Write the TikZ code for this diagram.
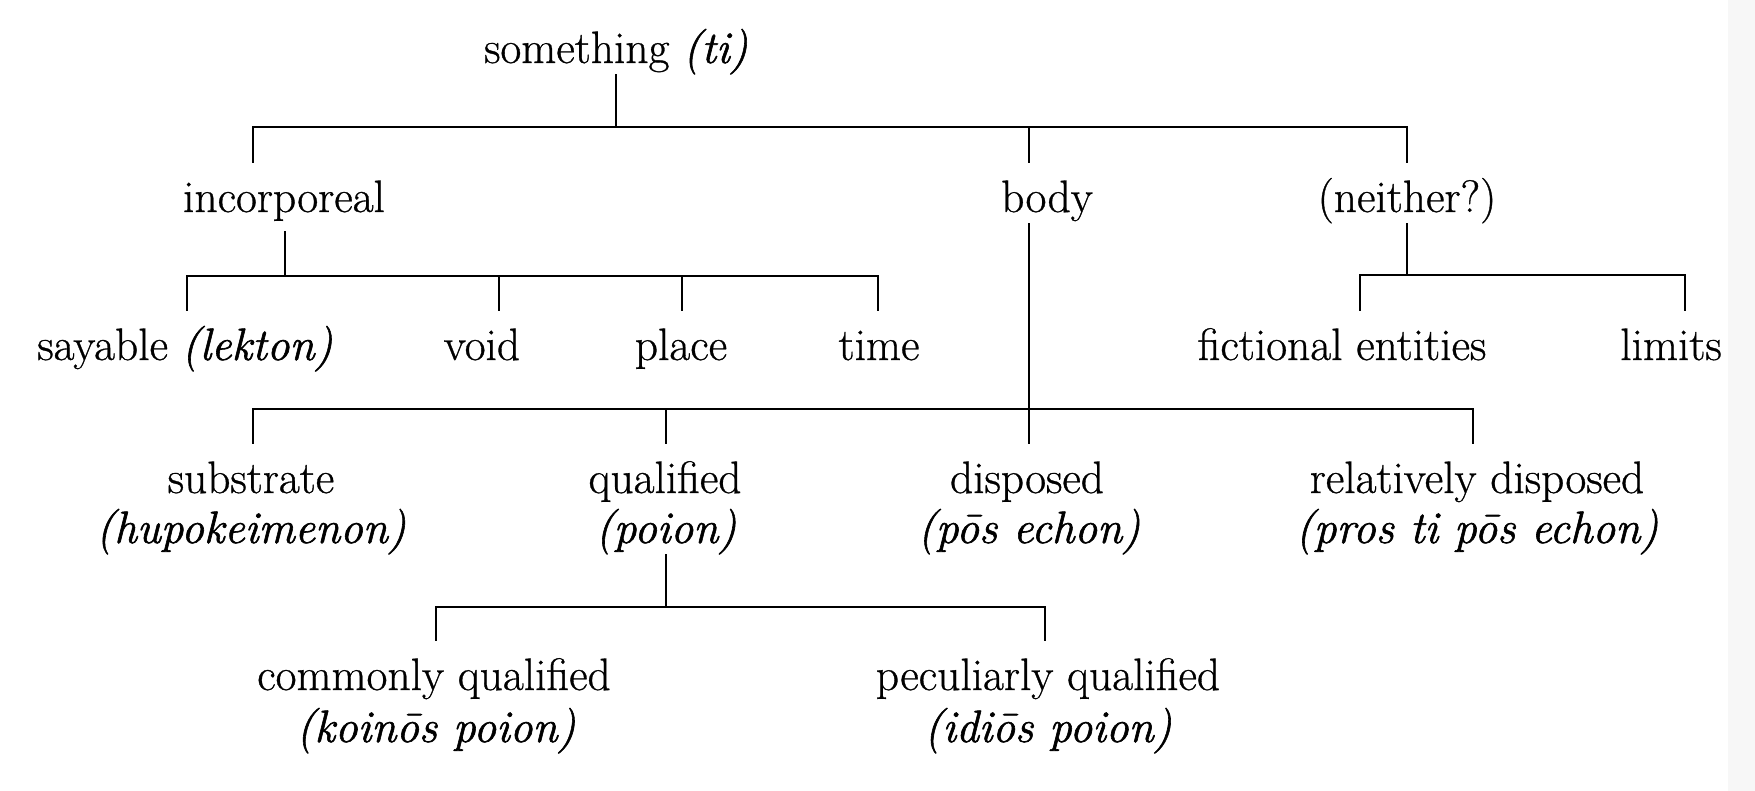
\documentclass[tikz,border=0pt]{standalone}
\usepackage{fontspec}
\setmainfont{Latin Modern Roman}[UprightFeatures={FakeBold=0.7},ItalicFeatures={FakeBold=1.3}]
\begin{document}
\begin{tikzpicture}[x=0.5pt,y=-0.5pt,
  lbl/.style={anchor=base,inner sep=0pt,text height=25pt,text depth=6pt,
              font=\fontsize{22.7pt}{25pt}\selectfont},
  tree/.style={line width=1.3pt,line cap=rect}]
\useasboundingbox (0,0) rectangle (1755,791);
\fill[gray!6] (1728,0) rectangle (1755,791);

% nodes
\node[lbl] (root) at (616,63) {something \textit{(ti)}};
\node[lbl] (inc)  at (284,212) {incorporeal};
\node[lbl] (body) at (1047,212) {body};
\node[lbl] (nei)  at (1407,212) {(neither?)};
\node[lbl] (say)  at (185,360) {sayable \textit{(lekton)}};
\node[lbl] (void) at (482,360) {void};
\node[lbl] (place) at (681,360) {place};
\node[lbl] (time) at (879,360) {time};
\node[lbl] (fict) at (1342,360) {fictional entities};
\node[lbl] (lim)  at (1671,360) {limits};
\node[lbl] (sub)  at (251,493) {substrate};
\node[lbl] (subg) at (251,543) {\textit{(hupokeimenon)}};
\node[lbl] (qual) at (665,493) {qualified};
\node[lbl] (qualg) at (666,543) {\textit{(poion)}};
\node[lbl] (disp) at (1027,493) {disposed};
\node[lbl] (dispg) at (1029,543) {\textit{(pōs echon)}};
\node[lbl] (rel)  at (1477,493) {relatively disposed};
\node[lbl] (relg) at (1477,543) {\textit{(pros ti pōs echon)}};
\node[lbl] (com)  at (434,690) {commonly qualified};
\node[lbl] (comg) at (436,742) {\textit{(koinōs poion)}};
\node[lbl] (pec)  at (1048,690) {peculiarly qualified};
\node[lbl] (pecg) at (1048,742) {\textit{(idiōs poion)}};

% bar levels and drop positions
\coordinate (y0) at (0,127);
\coordinate (y1) at (0,276);
\coordinate (y1r) at (0,275);
\coordinate (y2) at (0,409);
\coordinate (y3) at (0,607);
\coordinate (xinc) at (253,0);
\coordinate (xincs) at (285,0);
\coordinate (xbody) at (1029,0);
\coordinate (xnei) at (1407,0);
\coordinate (xsay) at (187,0);
\coordinate (xvoid) at (499,0);
\coordinate (xplace) at (682,0);
\coordinate (xtime) at (878,0);
\coordinate (xfict) at (1360,0);
\coordinate (xlim) at (1685,0);
\coordinate (xsub) at (253,0);
\coordinate (xqual) at (666,0);
\coordinate (xrel) at (1473,0);
\coordinate (xcom) at (436,0);
\coordinate (xpec) at (1045,0);

% something -> incorporeal, body, neither
\draw[tree] (root.south) -- (root.south |- y0);
\draw[tree] (xinc |- y0) -- (xnei |- y0);
\draw[tree] (xinc |- y0) -- (xinc |- inc.north);
\draw[tree] (xbody |- y0) -- (xbody |- body.north);
\draw[tree] (xnei |- y0) -- (xnei |- nei.north);

% incorporeal -> sayable, void, place, time
\draw[tree] ([yshift=-4pt]xincs |- inc.south) -- (xincs |- y1);
\draw[tree] (xsay |- y1) -- (xtime |- y1);
\draw[tree] (xsay |- y1) -- (xsay |- say.north);
\draw[tree] (xvoid |- y1) -- (xvoid |- void.north);
\draw[tree] (xplace |- y1) -- (xplace |- place.north);
\draw[tree] (xtime |- y1) -- (xtime |- time.north);

% neither -> fictional entities, limits
\draw[tree] (xnei |- nei.south) -- (xnei |- y1r);
\draw[tree] (xfict |- y1r) -- (xlim |- y1r);
\draw[tree] (xfict |- y1r) -- (xfict |- fict.north);
\draw[tree] (xlim |- y1r) -- (xlim |- lim.north);

% body -> substrate, qualified, disposed, relatively disposed
\draw[tree] (xbody |- body.south) -- (xbody |- disp.north);
\draw[tree] (xsub |- y2) -- (xrel |- y2);
\draw[tree] (xsub |- y2) -- (xsub |- sub.north);
\draw[tree] (xqual |- y2) -- (xqual |- qual.north);
\draw[tree] (xrel |- y2) -- (xrel |- rel.north);

% qualified -> commonly, peculiarly
\draw[tree] (xqual |- qualg.south) -- (xqual |- y3);
\draw[tree] (xcom |- y3) -- (xpec |- y3);
\draw[tree] (xcom |- y3) -- (xcom |- com.north);
\draw[tree] (xpec |- y3) -- (xpec |- pec.north);
\end{tikzpicture}
\end{document}
